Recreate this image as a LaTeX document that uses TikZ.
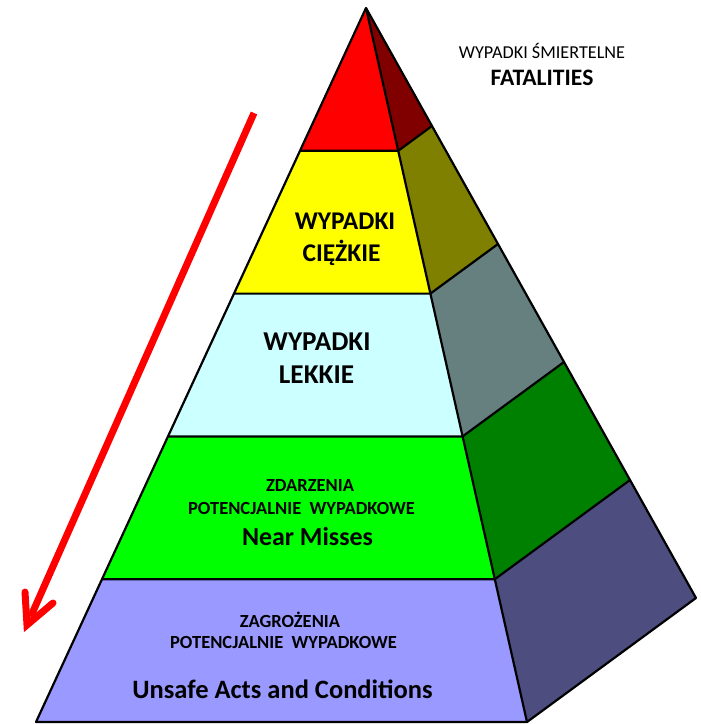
\documentclass[tikz,border=0pt]{standalone}
\usepackage{fontspec}
\setmainfont{Carlito}
\usetikzlibrary{calc}
\definecolor{cRed}{HTML}{FF0000}
\definecolor{cRedD}{HTML}{800000}
\definecolor{cYel}{HTML}{FFFF00}
\definecolor{cYelD}{HTML}{808000}
\definecolor{cCya}{HTML}{CCFFFF}
\definecolor{cCyaD}{HTML}{668080}
\definecolor{cGrn}{HTML}{00FF00}
\definecolor{cGrnD}{HTML}{008000}
\definecolor{cPur}{HTML}{9999FF}
\definecolor{cPurD}{HTML}{4D4D80}
\tikzset{
  face/.style={draw=black, line width=2.2pt, line join=round},
  lbl/.style={anchor=base, inner sep=0pt, text=black},
  redline/.style={draw=cRed, line width=7pt},
}
\newcommand{\fsz}[1]{\fontsize{#1}{#1}\selectfont}
\begin{document}
\begin{tikzpicture}[x=1pt,y=-1pt]
\useasboundingbox (0,0) rectangle (701,724);
\coordinate (A) at (366,8);
\coordinate (FL) at (36,722);
\coordinate (FR) at (527,722);
\coordinate (BK) at (696,598);
\foreach \i/\f in {1/0.2,2/0.4,3/0.6,4/0.8}{
  \coordinate (L\i) at ($(A)!\f!(FL)$);
  \coordinate (R\i) at ($(A)!\f!(FR)$);
  \coordinate (B\i) at ($(A)!\f!(BK)$);
}
% front faces
\fill[cRed] (A) -- (L1) -- (R1) -- cycle;
\fill[cYel] (L1) -- (R1) -- (R2) -- (L2) -- cycle;
\fill[cCya] (L2) -- (R2) -- (R3) -- (L3) -- cycle;
\fill[cGrn] (L3) -- (R3) -- (R4) -- (L4) -- cycle;
\fill[cPur] (L4) -- (R4) -- (FR) -- (FL) -- cycle;
% side faces
\fill[cRedD] (A) -- (R1) -- (B1) -- cycle;
\fill[cYelD] (R1) -- (R2) -- (B2) -- (B1) -- cycle;
\fill[cCyaD] (R2) -- (R3) -- (B3) -- (B2) -- cycle;
\fill[cGrnD] (R3) -- (R4) -- (B4) -- (B3) -- cycle;
\fill[cPurD] (R4) -- (FR) -- (BK) -- (B4) -- cycle;
% outlines
\draw[face] (A) -- (FL) -- (FR) -- (BK) -- cycle;
\draw[face] (A) -- (FR);
\foreach \i in {1,2,3,4}{ \draw[face] (L\i) -- (R\i) -- (B\i); }
% arrow
\coordinate (S) at (254,113);
\coordinate (T) at (27,625);
\coordinate (H1) at (25,592);
\coordinate (H2) at (53,603);
\draw[redline] (S) -- ($(T)!9pt!(S)$);
\draw[redline, line cap=round, line join=miter] (H1) -- (T) -- (H2);
% texts
\node[lbl, font=\fsz{18.2}] (t1) at (542,58) {WYPADKI ŚMIERTELNE};
\node[lbl, font=\fsz{23.6}\bfseries] (t2) at (542,85) {FATALITIES};
\node[lbl, font=\fsz{25.5}\bfseries] (y1) at (345,229) {WYPADKI};
\node[lbl, font=\fsz{25.5}\bfseries] (y2) at (341.5,261) {CIĘŻKIE};
\node[lbl, font=\fsz{27.2}\bfseries] (c1) at (317,350) {WYPADKI};
\node[lbl, font=\fsz{27.2}\bfseries] (c2) at (316.5,383) {LEKKIE};
\node[lbl, font=\fsz{18.5}\bfseries] (g1) at (310,491) {ZDARZENIA};
\node[lbl, font=\fsz{18.5}\bfseries] (g2) at (301.5,514) {POTENCJALNIE\ \ WYPADKOWE};
\node[lbl, font=\fsz{25.9}\bfseries] (g3) at (307.5,545) {Near Misses};
\node[lbl, font=\fsz{18.5}\bfseries] (p1) at (290,627) {ZAGROŻENIA};
\node[lbl, font=\fsz{18.5}\bfseries] (p2) at (283.5,648) {POTENCJALNIE\ \ WYPADKOWE};
\node[lbl, font=\fsz{26.5}\bfseries] (p3) at (282.5,698) {Unsafe Acts and Conditions};
\end{tikzpicture}
\end{document}
